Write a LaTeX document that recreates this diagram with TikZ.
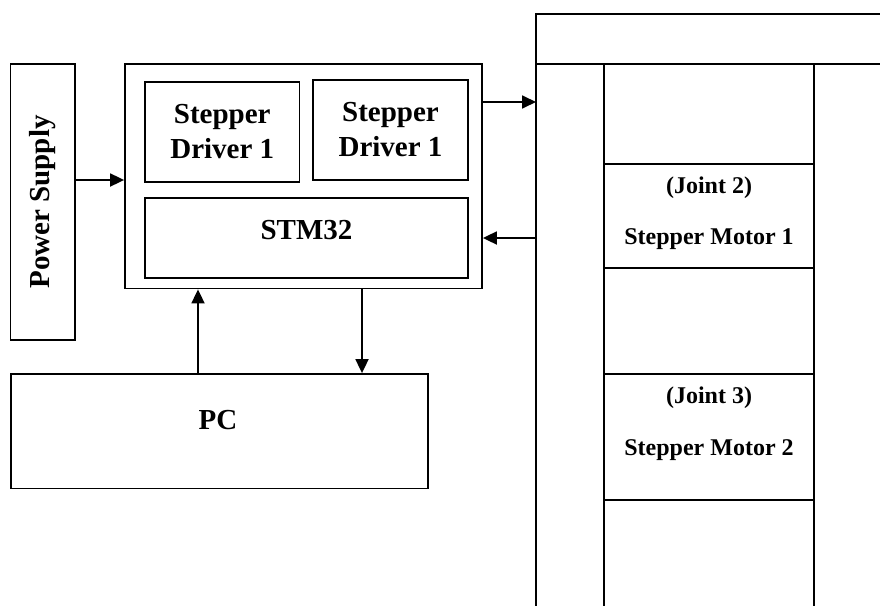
\documentclass[tikz,border=0pt]{standalone}
\usepackage{fontspec}
\setmainfont{Liberation Serif}
\usetikzlibrary{arrows.meta}
\begin{document}
\begin{tikzpicture}[x=1pt,y=-1pt,
  box/.style={draw, line width=1.8pt, rectangle, inner sep=0pt, align=center,
    font=\fontsize{29}{35}\selectfont\bfseries},
  txt/.style={inner sep=0pt, align=center, font=\fontsize{29}{35}\selectfont\bfseries},
  mtxt/.style={inner sep=0pt, font=\fontsize{24}{28}\selectfont\bfseries},
  arr/.style={line width=1.8pt, -{Triangle[length=14pt,width=13pt]}},
  frame/.style={line width=1.8pt}]
\clip (0,0) rectangle (880,605);
% left side blocks
\node[box, minimum width=64.5pt, minimum height=276pt] (ps) at (42.75,202) {};
\node[txt, rotate=90] (pstext) at (ps.center) {Power Supply};
\node[box, minimum width=357pt, minimum height=224.5pt] (main) at (303.5,176.25) {};
\node[box, minimum width=154.5pt, minimum height=100pt] (sd1) at (222.25,132) {Stepper\\Driver 1};
\node[box, minimum width=155pt, minimum height=100pt] (sd2) at (390.5,130) {Stepper\\Driver 1};
\node[box, minimum width=323pt, minimum height=80pt] (stm) at (306.5,238) {};
\node[txt] (stmtext) at (306.5,230) {STM32};
\node[box, minimum width=417pt, minimum height=114.5pt] (pc) at (219.5,431.25) {};
\node[txt] (pctext) at (218,420) {PC};
% robot arm frame
\coordinate (fout) at (536,102);
\coordinate (fin) at (536,238);
\draw[frame] (885,14) -- (536,14) -- (536,610);
\draw[frame] (536,64) -- (885,64);
\draw[frame] (604,64) -- (604,610);
\draw[frame] (814,64) -- (814,610);
\node[draw, line width=1.8pt, minimum width=210pt, minimum height=104pt, inner sep=0pt] (j2) at (709,216) {};
\node[draw, line width=1.8pt, minimum width=210pt, minimum height=126pt, inner sep=0pt] (j3) at (709,437) {};
\node[mtxt] (j2a) at (709,188) {(Joint 2)};
\node[mtxt] (j2b) at (709,239) {Stepper Motor 1};
\node[mtxt] (j3a) at (709,398) {(Joint 3)};
\node[mtxt] (j3b) at (709,450) {Stepper Motor 2};
% connectors
\draw[arr] (ps.east |- 0,180) -- (main.west |- 0,180);
\draw[arr] (main.east |- fout) -- (fout);
\draw[arr] (fin) -- (main.east |- fin);
\draw[arr] (pc.north -| 198,0) -- (main.south -| 198,0);
\draw[arr] (main.south -| 362,0) -- (pc.north -| 362,0);
\end{tikzpicture}
\end{document}
